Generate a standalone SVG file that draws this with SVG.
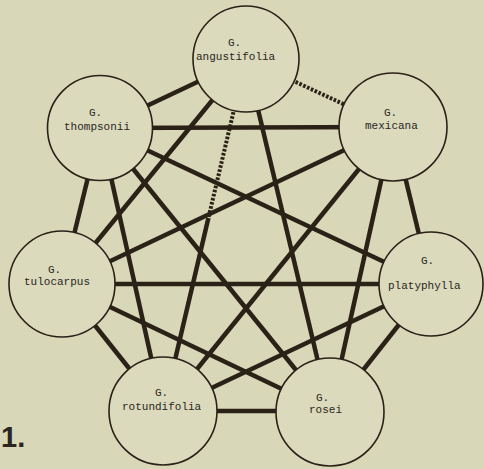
<svg xmlns="http://www.w3.org/2000/svg" width="484" height="469" viewBox="0 0 484 469">
<style>
.bg{fill:#d8d7b7}
.e{stroke:#2a2117;stroke-width:4.5;stroke-linecap:butt;fill:none}
.d{stroke:#2a2117;stroke-width:4;stroke-dasharray:2.6 1.6;fill:none}
.n circle{fill:#dbdabd;stroke:#2a2117;stroke-width:1.6}
.n text{font-family:"Liberation Mono","DejaVu Sans Mono",monospace;font-size:11px;fill:#2a2620}
.fig{font-family:"Liberation Sans",Arial,sans-serif;font-size:29px;font-weight:bold;fill:#2a2620}
</style>
<rect class="bg" x="0" y="0" width="484" height="469"/>
<g id="connectors">
<line class="e" x1="246" y1="59" x2="100" y2="128"/>
<line class="d" x1="246" y1="59" x2="393" y2="127"/>
<line class="e" x1="246" y1="59" x2="62" y2="284"/>
<line class="d" x1="246" y1="59" x2="208.4" y2="218"/>
<line class="e" x1="208.4" y1="218" x2="163" y2="411"/>
<line class="e" x1="246" y1="59" x2="330" y2="412"/>
<line class="e" x1="100" y1="128" x2="393" y2="127"/>
<line class="e" x1="100" y1="128" x2="62" y2="284"/>
<line class="e" x1="100" y1="128" x2="431" y2="284"/>
<line class="e" x1="100" y1="128" x2="163" y2="411"/>
<line class="e" x1="100" y1="128" x2="330" y2="412"/>
<line class="e" x1="393" y1="127" x2="62" y2="284"/>
<line class="e" x1="393" y1="127" x2="431" y2="284"/>
<line class="e" x1="393" y1="127" x2="163" y2="411"/>
<line class="e" x1="393" y1="127" x2="330" y2="412"/>
<line class="e" x1="62" y1="284" x2="431" y2="284"/>
<line class="e" x1="62" y1="284" x2="163" y2="411"/>
<line class="e" x1="62" y1="284" x2="330" y2="412"/>
<line class="e" x1="431" y1="284" x2="163" y2="411"/>
<line class="e" x1="431" y1="284" x2="330" y2="412"/>
<line class="e" x1="163" y1="411" x2="330" y2="411"/>
</g>
<g id="angustifolia" class="n">
<circle cx="246" cy="59" r="53"/>
<text x="228" y="46">G.</text>
<text x="196" y="60">angustifolia</text>
</g>
<g id="thompsonii" class="n">
<circle cx="100" cy="128" r="52.5"/>
<text x="89" y="116">G.</text>
<text x="64" y="130">thompsonii</text>
</g>
<g id="mexicana" class="n">
<circle cx="393" cy="127" r="54"/>
<text x="384" y="116">G.</text>
<text x="365" y="129">mexicana</text>
</g>
<g id="tulocarpus" class="n">
<circle cx="62" cy="284" r="53"/>
<text x="48" y="273">G.</text>
<text x="24" y="285">tulocarpus</text>
</g>
<g id="platyphylla" class="n">
<circle cx="431" cy="284" r="52"/>
<text x="421" y="264">G.</text>
<text x="388" y="289">platyphylla</text>
</g>
<g id="rotundifolia" class="n">
<circle cx="163" cy="411" r="54"/>
<text x="155" y="396">G.</text>
<text x="122" y="410">rotundifolia</text>
</g>
<g id="rosei" class="n">
<circle cx="330" cy="412" r="54"/>
<text x="316" y="401">G.</text>
<text x="309" y="413">rosei</text>
</g>
<text class="fig" x="1" y="447">1.</text>
</svg>
